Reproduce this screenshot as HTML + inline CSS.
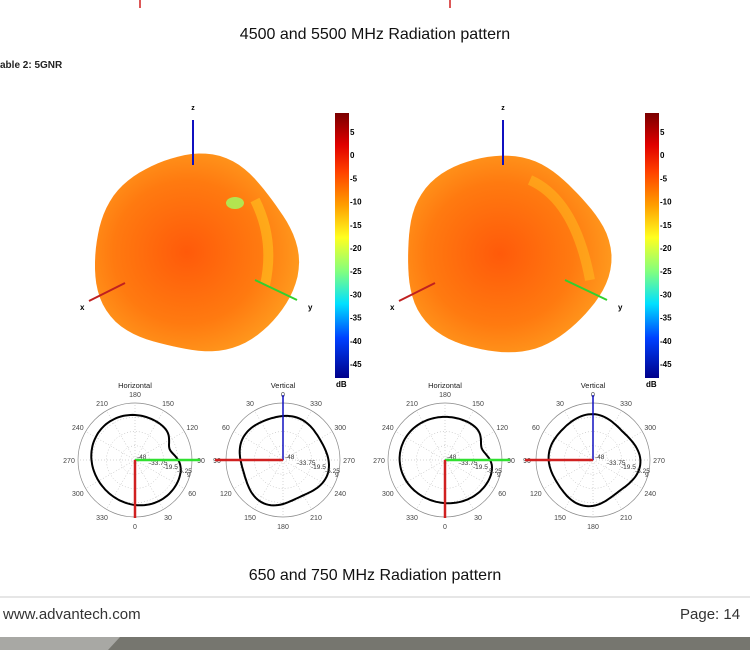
<!DOCTYPE html>
<html><head><meta charset="utf-8"><style>
body{margin:0;width:750px;height:650px;background:#fff;overflow:hidden;font-family:"Liberation Sans",sans-serif}
</style></head><body>
<svg id="s" width="750" height="650" xmlns="http://www.w3.org/2000/svg" font-family="Liberation Sans, sans-serif">
<defs>
<linearGradient id="cb" x1="0" y1="0" x2="0" y2="1">
<stop offset="0" stop-color="#7a0000"/><stop offset="0.12" stop-color="#e00000"/><stop offset="0.22" stop-color="#ff4000"/><stop offset="0.35" stop-color="#ffa000"/><stop offset="0.47" stop-color="#ffff20"/><stop offset="0.6" stop-color="#80ff80"/><stop offset="0.72" stop-color="#00e0ff"/><stop offset="0.85" stop-color="#0040ff"/><stop offset="1" stop-color="#00008a"/>
</linearGradient>
<radialGradient id="bl" cx="0.45" cy="0.5" r="0.6">
<stop offset="0" stop-color="#ff5a0a"/><stop offset="0.6" stop-color="#ff7a10"/><stop offset="1" stop-color="#ffa020"/>
</radialGradient>
</defs>
<line x1="140" y1="0" x2="140" y2="8" stroke="#d02020" stroke-width="1.5"/>
<line x1="450" y1="0" x2="450" y2="8" stroke="#d02020" stroke-width="1.5"/>
<text x="375" y="39" font-size="16" text-anchor="middle" fill="#111">4500 and 5500 MHz Radiation pattern</text>
<text x="0" y="68" font-size="10" font-weight="bold" fill="#222">able 2: 5GNR</text>
<g id="g"></g>
<text x="375" y="580" font-size="16" text-anchor="middle" fill="#111">650 and 750 MHz Radiation pattern</text>
<line x1="0" y1="597" x2="750" y2="597" stroke="#e6e6e6" stroke-width="2"/>
<text x="3" y="619" font-size="15" fill="#333">www.advantech.com</text>
<text x="680" y="619" font-size="15" fill="#333">Page: 14</text>
<rect x="0" y="637" width="750" height="13" fill="#a8a8a4"/>
<polygon points="120,637 750,637 750,650 108,650" fill="#76766f"/>
</svg>
<script>
var g=document.getElementById('g'),h='';
function blob(ox,k){
 var p='';for(var i=0;i<=90;i++){var a=i/90*2*Math.PI;var r=100+3*Math.sin(3*a+k)+2*Math.cos(5*a)+2*Math.sin(2*a+1);
 p+=(i?'L':'M')+(ox+r*Math.cos(a)).toFixed(1)+','+(255+r*Math.sin(a)).toFixed(1);}
 return '<path d="'+p+'Z" fill="url(#bl)"/>';
}
function panel(ox,k){
 var s=blob(ox+195,k);
 if(k==0)s+='<ellipse cx="'+(ox+235)+'" cy="203" rx="9" ry="6" fill="#a0ff60" opacity="0.8"/><path d="M'+(ox+255)+',200 Q'+(ox+275)+',240 '+(ox+265)+',285" stroke="#ffd020" stroke-width="10" fill="none" opacity="0.5"/>';
 else s+='<path d="M'+(ox+220)+',180 Q'+(ox+265)+',200 '+(ox+280)+',280" stroke="#ffc020" stroke-width="10" fill="none" opacity="0.5"/>';
 s+='<line x1="'+(ox+193)+'" y1="120" x2="'+(ox+193)+'" y2="165" stroke="#1010c0" stroke-width="2"/>';
 s+='<text x="'+(ox+193)+'" y="110" font-size="7" font-weight="bold" text-anchor="middle">z</text>';
 s+='<line x1="'+(ox+89)+'" y1="301" x2="'+(ox+125)+'" y2="283" stroke="#c02020" stroke-width="2"/>';
 s+='<text x="'+(ox+80)+'" y="310" font-size="8" font-weight="bold">x</text>';
 s+='<line x1="'+(ox+255)+'" y1="280" x2="'+(ox+297)+'" y2="300" stroke="#30d030" stroke-width="2"/>';
 s+='<text x="'+(ox+308)+'" y="310" font-size="8" font-weight="bold">y</text>';
 s+='<rect x="'+(ox+335)+'" y="113" width="14" height="265" fill="url(#cb)"/>';
 for(var v=5;v>=-45;v-=5){var y=132+(5-v)/5*23.2;s+='<text x="'+(ox+350)+'" y="'+(y+3)+'" font-size="8" font-weight="bold">'+v+'</text>';}
 s+='<text x="'+(ox+336)+'" y="387" font-size="8" font-weight="bold">dB</text>';
 s+=polar(ox+135,460,'Horizontal',['180','150','120','90','60','30','0','330','300','270','240','210'],0,k);
 s+=polar(ox+283,460,'Vertical',['0','330','300','270','240','210','180','150','120','90','60','30'],1,k);
 return s;
}
function polar(cx,cy,t,lab,v,k){
 var R=57,s='<circle cx="'+cx+'" cy="'+cy+'" r="'+R+'" fill="#fff" stroke="#888" stroke-width="0.7"/>';
 for(var i=1;i<4;i++)s+='<circle cx="'+cx+'" cy="'+cy+'" r="'+(R*i/4)+'" fill="none" stroke="#aaa" stroke-width="0.5" stroke-dasharray="1,2"/>';
 for(var j=0;j<12;j++){var a=-Math.PI/2+j*Math.PI/6;
  s+='<line x1="'+cx+'" y1="'+cy+'" x2="'+(cx+R*Math.cos(a))+'" y2="'+(cy+R*Math.sin(a))+'" stroke="#aaa" stroke-width="0.5" stroke-dasharray="1,2"/>';
  s+='<text x="'+(cx+(R+9)*Math.cos(a))+'" y="'+(cy+(R+9)*Math.sin(a)+3)+'" font-size="7" fill="#444" text-anchor="middle">'+lab[j]+'</text>';}
 s+='<text x="'+cx+'" y="'+(cy-72)+'" font-size="7.5" text-anchor="middle" fill="#222">'+t+'</text>';
 var p='';for(var i=0;i<=120;i++){var a=-Math.PI+i/120*2*Math.PI,r;
  if(!v){r=45-9*Math.exp(-Math.pow((a+0.3)/0.3,2))+2*Math.sin(2*a+k)+1.5*Math.cos(a);}
  else{r=44+2*Math.sin(4*a+k)+1.5*Math.cos(3*a);}
  p+=(i?'L':'M')+(cx+r*Math.cos(a)).toFixed(1)+','+(cy+r*Math.sin(a)).toFixed(1);}
 s+='<path d="'+p+'Z" fill="none" stroke="#000" stroke-width="2"/>';
 var lb=[['-48',2,-1],['-33.75',14,5],['-19.5',28,9],['-5.25',42,13],['9',52,17]];
 lb.forEach(function(l){s+='<text x="'+(cx+l[1])+'" y="'+(cy+l[2])+'" font-size="6.5" fill="#333">'+l[0]+'</text>';});
 if(!v){s+='<line x1="'+cx+'" y1="'+cy+'" x2="'+(cx+65)+'" y2="'+cy+'" stroke="#30e030" stroke-width="2.5"/><line x1="'+cx+'" y1="'+cy+'" x2="'+cx+'" y2="'+(cy+58)+'" stroke="#d02020" stroke-width="2.5"/>';}
 else{s+='<line x1="'+cx+'" y1="'+cy+'" x2="'+cx+'" y2="'+(cy-65)+'" stroke="#1010c0" stroke-width="1.5"/><line x1="'+cx+'" y1="'+cy+'" x2="'+(cx-68)+'" y2="'+cy+'" stroke="#d02020" stroke-width="2.5"/>';}
 return s;
}
h+=panel(0,0)+panel(310,1.2);
g.innerHTML=h;
</script>
</body></html>
